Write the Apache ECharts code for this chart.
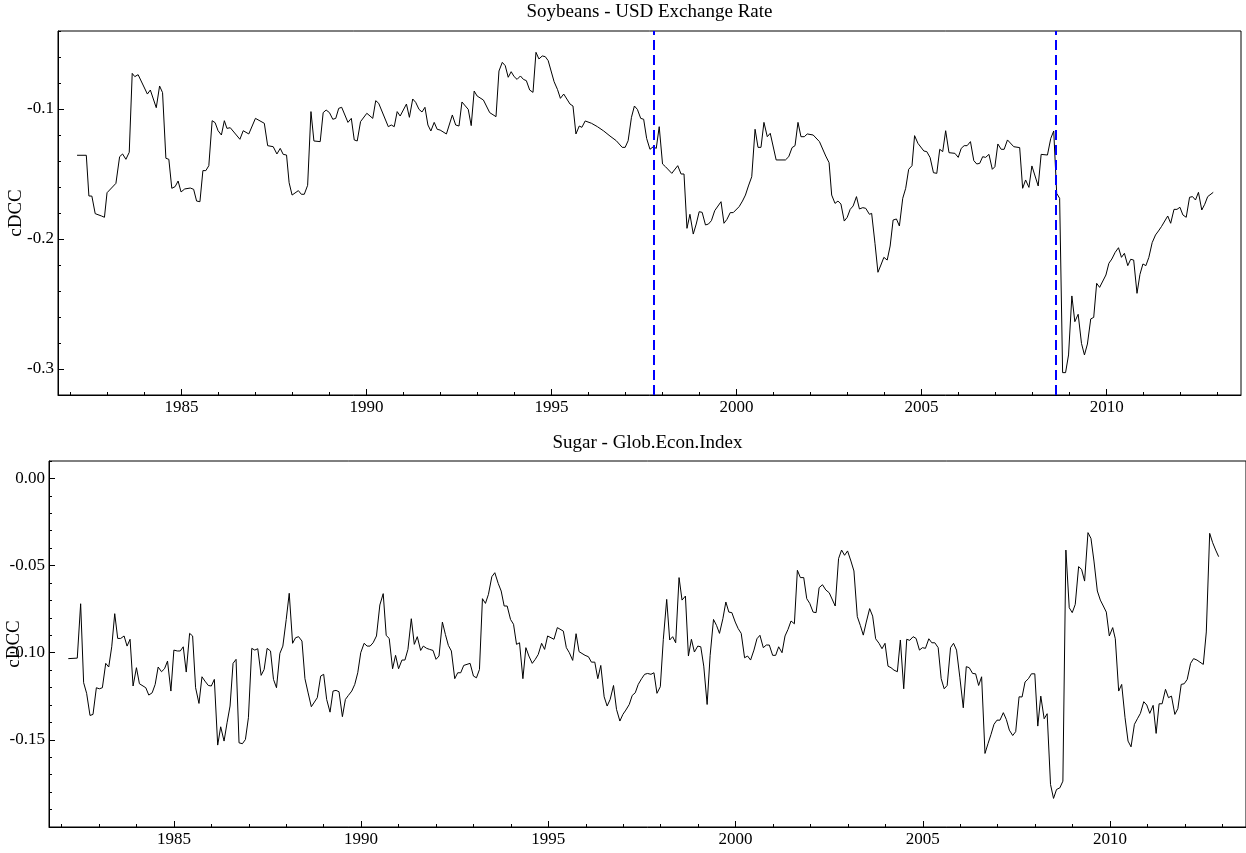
<!DOCTYPE html>
<html>
<head>
<meta charset="utf-8">
<title>cDCC</title>
<script src="https://cdn.jsdelivr.net/npm/echarts@6/dist/echarts.min.js"></script>
<style>
  html, body { margin: 0; padding: 0; background: #fff; }
  #main { width: 1246px; height: 853px; }
</style>
</head>
<body>
<div id="main"></div>
<script>
// soybeans - USD exchange rate (monthly-ish vertices)
const soyDates = [
  1982.18, 1982.43, 1982.50, 1982.58, 1982.67, 1982.84, 1982.92, 1982.99, 1983.23, 1983.33,
  1983.41, 1983.50, 1983.59, 1983.67, 1983.74, 1983.83, 1984.08, 1984.16, 1984.32, 1984.41,
  1984.49, 1984.58, 1984.66, 1984.74, 1984.83, 1984.91, 1984.99, 1985.09, 1985.24, 1985.33,
  1985.41, 1985.50, 1985.58, 1985.66, 1985.74, 1985.83, 1985.91, 1985.99, 1986.08, 1986.16,
  1986.23, 1986.32, 1986.58, 1986.67, 1986.82, 1987.00, 1987.24, 1987.33, 1987.48, 1987.58,
  1987.67, 1987.75, 1987.84, 1987.91, 1987.99, 1988.16, 1988.24, 1988.32, 1988.41, 1988.50,
  1988.58, 1988.75, 1988.83, 1988.91, 1989.00, 1989.09, 1989.17, 1989.25, 1989.33, 1989.50,
  1989.59, 1989.67, 1989.75, 1989.84, 1990.01, 1990.17, 1990.25, 1990.33, 1990.59, 1990.67,
  1990.75, 1990.83, 1990.91, 1991.08, 1991.16, 1991.25, 1991.33, 1991.42, 1991.50, 1991.58,
  1991.66, 1991.74, 1991.83, 1991.91, 1991.99, 1992.16, 1992.32, 1992.41, 1992.50, 1992.58,
  1992.75, 1992.83, 1992.91, 1992.99, 1993.16, 1993.33, 1993.50, 1993.58, 1993.67, 1993.75,
  1993.83, 1993.91, 1993.99, 1994.07, 1994.16, 1994.24, 1994.32, 1994.41, 1994.50, 1994.58,
  1994.66, 1994.75, 1994.83, 1994.91, 1995.07, 1995.16, 1995.24, 1995.33, 1995.50, 1995.58,
  1995.66, 1995.75, 1995.82, 1995.91, 1996.08, 1996.24, 1996.41, 1996.58, 1996.75, 1996.91,
  1996.99, 1997.07, 1997.16, 1997.24, 1997.32, 1997.41, 1997.49, 1997.57, 1997.66, 1997.75,
  1997.83, 1997.91, 1998.00, 1998.08, 1998.25, 1998.41, 1998.50, 1998.58, 1998.66, 1998.74,
  1998.83, 1998.91, 1998.99, 1999.07, 1999.16, 1999.24, 1999.32, 1999.41, 1999.58, 1999.66,
  1999.74, 1999.83, 1999.91, 2000.07, 2000.16, 2000.24, 2000.32, 2000.41, 2000.50, 2000.58,
  2000.66, 2000.74, 2000.83, 2000.91, 2001.07, 2001.32, 2001.41, 2001.50, 2001.58, 2001.66,
  2001.74, 2001.83, 2001.91, 2002.07, 2002.24, 2002.41, 2002.50, 2002.57, 2002.66, 2002.74,
  2002.82, 2002.91, 2002.99, 2003.07, 2003.15, 2003.24, 2003.32, 2003.41, 2003.49, 2003.59,
  2003.65, 2003.74, 2003.82, 2003.90, 2003.98, 2004.07, 2004.15, 2004.23, 2004.32, 2004.40,
  2004.49, 2004.57, 2004.65, 2004.74, 2004.81, 2004.90, 2005.06, 2005.14, 2005.23, 2005.32,
  2005.41, 2005.49, 2005.57, 2005.65, 2005.74, 2005.90, 2005.99, 2006.07, 2006.15, 2006.23,
  2006.32, 2006.41, 2006.49, 2006.57, 2006.65, 2006.73, 2006.82, 2006.91, 2006.98, 2007.06,
  2007.15, 2007.23, 2007.32, 2007.49, 2007.65, 2007.73, 2007.81, 2007.90, 2007.98, 2008.15,
  2008.23, 2008.40, 2008.49, 2008.57, 2008.65, 2008.73, 2008.81, 2008.89, 2008.97, 2009.06,
  2009.14, 2009.23, 2009.32, 2009.40, 2009.48, 2009.57, 2009.65, 2009.73, 2009.81, 2009.98,
  2010.06, 2010.14, 2010.23, 2010.32, 2010.40, 2010.48, 2010.57, 2010.65, 2010.73, 2010.82,
  2010.90, 2010.98, 2011.06, 2011.14, 2011.23, 2011.32, 2011.40, 2011.48, 2011.65, 2011.73,
  2011.82, 2011.90, 2011.98, 2012.06, 2012.15, 2012.24, 2012.32, 2012.40, 2012.48, 2012.57,
  2012.65, 2012.73, 2012.88
];
const soyValues = [
  -0.1356, -0.1356, -0.1669, -0.1670, -0.1805, -0.1823, -0.1833, -0.1644, -0.1572, -0.1367,
  -0.1346, -0.1387, -0.1333, -0.0726, -0.0751, -0.0736, -0.0885, -0.0854, -0.0990, -0.0823,
  -0.0874, -0.1379, -0.1387, -0.1610, -0.1597, -0.1554, -0.1638, -0.1615, -0.1608, -0.1618,
  -0.1708, -0.1713, -0.1474, -0.1474, -0.1436, -0.1090, -0.1105, -0.1167, -0.1200, -0.1090,
  -0.1149, -0.1144, -0.1233, -0.1167, -0.1192, -0.1072, -0.1110, -0.1282, -0.1290, -0.1346,
  -0.1303, -0.1349, -0.1354, -0.1567, -0.1662, -0.1628, -0.1656, -0.1656, -0.1587, -0.1020,
  -0.1246, -0.1251, -0.1028, -0.1008, -0.1028, -0.1079, -0.1072, -0.0995, -0.0987, -0.1103,
  -0.1072, -0.1238, -0.1246, -0.1097, -0.1033, -0.1072, -0.0936, -0.0956, -0.1136, -0.1123,
  -0.1136, -0.1020, -0.1054, -0.0962, -0.1064, -0.0923, -0.0949, -0.1003, -0.1023, -0.0987,
  -0.1123, -0.1169, -0.1103, -0.1156, -0.1162, -0.1192, -0.1046, -0.1123, -0.1131, -0.0946,
  -0.1003, -0.1128, -0.0862, -0.0900, -0.0931, -0.1028, -0.1059, -0.0708, -0.0641, -0.0667,
  -0.0756, -0.0713, -0.0751, -0.0772, -0.0746, -0.0772, -0.0782, -0.0854, -0.0872, -0.0564,
  -0.0615, -0.0592, -0.0597, -0.0628, -0.0790, -0.0849, -0.0918, -0.0885, -0.0962, -0.0977,
  -0.1192, -0.1131, -0.1141, -0.1092, -0.1110, -0.1136, -0.1169, -0.1208, -0.1244, -0.1295,
  -0.1295, -0.1244, -0.1064, -0.0977, -0.1003, -0.1072, -0.1079, -0.1226, -0.1310, -0.1290,
  -0.1303, -0.1136, -0.1423, -0.1444, -0.1495, -0.1436, -0.1500, -0.1500, -0.1918, -0.1810,
  -0.1962, -0.1885, -0.1790, -0.1795, -0.1892, -0.1885, -0.1859, -0.1782, -0.1713, -0.1879,
  -0.1849, -0.1797, -0.1797, -0.1751, -0.1708, -0.1662, -0.1592, -0.1521, -0.1156, -0.1295,
  -0.1295, -0.1103, -0.1213, -0.1187, -0.1392, -0.1392, -0.1367, -0.1297, -0.1282, -0.1103,
  -0.1213, -0.1213, -0.1192, -0.1200, -0.1251, -0.1362, -0.1413, -0.1662, -0.1726, -0.1708,
  -0.1731, -0.1862, -0.1833, -0.1772, -0.1746, -0.1674, -0.1769, -0.1759, -0.1764, -0.1810,
  -0.1803, -0.2033, -0.2256, -0.2200, -0.2141, -0.2162, -0.2054, -0.1854, -0.1846, -0.1900,
  -0.1687, -0.1610, -0.1464, -0.1436, -0.1205, -0.1264, -0.1323, -0.1328, -0.1374, -0.1490,
  -0.1495, -0.1310, -0.1328, -0.1167, -0.1336, -0.1341, -0.1372, -0.1303, -0.1282, -0.1282,
  -0.1251, -0.1397, -0.1423, -0.1418, -0.1367, -0.1372, -0.1349, -0.1464, -0.1444, -0.1269,
  -0.1310, -0.1310, -0.1238, -0.1290, -0.1297, -0.1610, -0.1546, -0.1603, -0.1438, -0.1592,
  -0.1349, -0.1354, -0.1226, -0.1169, -0.1649, -0.1687, -0.3028, -0.3028, -0.2892, -0.2438,
  -0.2636, -0.2579, -0.2803, -0.2892, -0.2808, -0.2615, -0.2603, -0.2341, -0.2372, -0.2277,
  -0.2187, -0.2154, -0.2103, -0.2067, -0.2141, -0.2110, -0.2205, -0.2156, -0.2162, -0.2418,
  -0.2272, -0.2192, -0.2205, -0.2141, -0.2028, -0.1969, -0.1938, -0.1905, -0.1823, -0.1879,
  -0.1772, -0.1772, -0.1756, -0.1815, -0.1833, -0.1679, -0.1674, -0.1700, -0.1641, -0.1777,
  -0.1733, -0.1674, -0.1641
];

// sugar - global economic index
const sugarDates = [
  1982.18, 1982.42, 1982.51, 1982.59, 1982.67, 1982.76, 1982.84, 1982.93, 1983.01, 1983.09,
  1983.18, 1983.26, 1983.34, 1983.42, 1983.50, 1983.58, 1983.67, 1983.75, 1983.83, 1983.91,
  1984.00, 1984.08, 1984.25, 1984.33, 1984.42, 1984.50, 1984.58, 1984.67, 1984.75, 1984.83,
  1984.92, 1985.00, 1985.09, 1985.17, 1985.25, 1985.33, 1985.42, 1985.50, 1985.58, 1985.67,
  1985.75, 1985.83, 1985.92, 1986.00, 1986.08, 1986.17, 1986.25, 1986.34, 1986.42, 1986.50,
  1986.58, 1986.66, 1986.74, 1986.83, 1986.91, 1986.99, 1987.08, 1987.16, 1987.24, 1987.33,
  1987.41, 1987.49, 1987.58, 1987.66, 1987.74, 1987.83, 1987.91, 1988.00, 1988.08, 1988.17,
  1988.25, 1988.33, 1988.42, 1988.50, 1988.58, 1988.67, 1988.83, 1988.92, 1989.00, 1989.08,
  1989.17, 1989.25, 1989.33, 1989.41, 1989.50, 1989.58, 1989.66, 1989.75, 1989.83, 1989.91,
  1989.99, 1990.08, 1990.16, 1990.24, 1990.32, 1990.41, 1990.50, 1990.59, 1990.67, 1990.75,
  1990.84, 1990.92, 1991.00, 1991.09, 1991.17, 1991.25, 1991.34, 1991.42, 1991.50, 1991.59,
  1991.66, 1991.75, 1991.83, 1991.92, 1992.00, 1992.08, 1992.17, 1992.25, 1992.33, 1992.41,
  1992.50, 1992.58, 1992.66, 1992.74, 1992.91, 1993.00, 1993.08, 1993.16, 1993.24, 1993.32,
  1993.40, 1993.49, 1993.57, 1993.66, 1993.74, 1993.82, 1993.90, 1993.99, 1994.07, 1994.15,
  1994.23, 1994.32, 1994.40, 1994.48, 1994.57, 1994.65, 1994.73, 1994.82, 1994.90, 1994.98,
  1995.15, 1995.24, 1995.40, 1995.48, 1995.56, 1995.65, 1995.74, 1995.82, 1995.98, 1996.07,
  1996.15, 1996.24, 1996.32, 1996.40, 1996.49, 1996.57, 1996.65, 1996.74, 1996.82, 1996.91,
  1996.99, 1997.07, 1997.16, 1997.24, 1997.32, 1997.40, 1997.49, 1997.57, 1997.65, 1997.74,
  1997.82, 1997.90, 1997.99, 1998.07, 1998.16, 1998.24, 1998.32, 1998.40, 1998.49, 1998.57,
  1998.66, 1998.74, 1998.82, 1998.90, 1998.99, 1999.07, 1999.15, 1999.24, 1999.32, 1999.41,
  1999.49, 1999.57, 1999.66, 1999.74, 1999.82, 1999.90, 1999.99, 2000.07, 2000.15, 2000.24,
  2000.32, 2000.40, 2000.49, 2000.57, 2000.65, 2000.74, 2000.82, 2000.90, 2000.99, 2001.07,
  2001.15, 2001.24, 2001.32, 2001.40, 2001.48, 2001.57, 2001.65, 2001.73, 2001.82, 2001.90,
  2001.98, 2002.07, 2002.15, 2002.23, 2002.32, 2002.41, 2002.50, 2002.66, 2002.75, 2002.83,
  2002.91, 2002.99, 2003.08, 2003.16, 2003.25, 2003.33, 2003.41, 2003.49, 2003.58, 2003.66,
  2003.74, 2003.83, 2003.91, 2003.99, 2004.07, 2004.15, 2004.23, 2004.32, 2004.40, 2004.49,
  2004.57, 2004.65, 2004.74, 2004.82, 2004.91, 2004.99, 2005.07, 2005.16, 2005.24, 2005.32,
  2005.41, 2005.49, 2005.57, 2005.65, 2005.74, 2005.82, 2005.90, 2005.99, 2006.08, 2006.16,
  2006.24, 2006.33, 2006.41, 2006.49, 2006.57, 2006.66, 2006.74, 2006.82, 2006.90, 2006.98,
  2007.06, 2007.15, 2007.23, 2007.31, 2007.40, 2007.48, 2007.57, 2007.65, 2007.73, 2007.82,
  2007.90, 2007.99, 2008.07, 2008.15, 2008.24, 2008.32, 2008.41, 2008.49, 2008.57, 2008.66,
  2008.74, 2008.82, 2008.91, 2008.99, 2009.07, 2009.16, 2009.24, 2009.32, 2009.41, 2009.49,
  2009.57, 2009.66, 2009.74, 2009.82, 2009.90, 2009.98, 2010.07, 2010.14, 2010.23, 2010.31,
  2010.40, 2010.48, 2010.56, 2010.65, 2010.73, 2010.81, 2010.90, 2010.98, 2011.06, 2011.15,
  2011.23, 2011.31, 2011.39, 2011.48, 2011.56, 2011.64, 2011.73, 2011.81, 2011.90, 2011.98,
  2012.06, 2012.15, 2012.23, 2012.32, 2012.40, 2012.49, 2012.57, 2012.66, 2012.74, 2012.82,
  2012.90
];
const sugarValues = [
  -0.1034, -0.1031, -0.0719, -0.1172, -0.1233, -0.1360, -0.1354, -0.1201, -0.1207, -0.1201,
  -0.1061, -0.1082, -0.0966, -0.0776, -0.0918, -0.0918, -0.0904, -0.0962, -0.0923, -0.1191,
  -0.1086, -0.1178, -0.1201, -0.1243, -0.1230, -0.1182, -0.1082, -0.1109, -0.1092, -0.1048,
  -0.1220, -0.0985, -0.0990, -0.0990, -0.0966, -0.1111, -0.0889, -0.0904, -0.1201, -0.1291,
  -0.1138, -0.1163, -0.1188, -0.1191, -0.1153, -0.1530, -0.1425, -0.1507, -0.1402, -0.1306,
  -0.1061, -0.1038, -0.1517, -0.1522, -0.1498, -0.1373, -0.0975, -0.0985, -0.0977, -0.1130,
  -0.1096, -0.0975, -0.0990, -0.1153, -0.1201, -0.1004, -0.0962, -0.0809, -0.0659, -0.0946,
  -0.0914, -0.0908, -0.0933, -0.1149, -0.1226, -0.1310, -0.1258, -0.1134, -0.1124, -0.1268,
  -0.1341, -0.1220, -0.1216, -0.1224, -0.1367, -0.1268, -0.1245, -0.1220, -0.1182, -0.1115,
  -0.1000, -0.0946, -0.0962, -0.0962, -0.0943, -0.0904, -0.0726, -0.0661, -0.0901, -0.0918,
  -0.1092, -0.1015, -0.1092, -0.1042, -0.1042, -0.0981, -0.0805, -0.0952, -0.0908, -0.0987,
  -0.0962, -0.0975, -0.0981, -0.0987, -0.1038, -0.1019, -0.0824, -0.0895, -0.0958, -0.0990,
  -0.1149, -0.1115, -0.1115, -0.1073, -0.1061, -0.1134, -0.1144, -0.1096, -0.0690, -0.0717,
  -0.0665, -0.0564, -0.0541, -0.0602, -0.0646, -0.0732, -0.0732, -0.0809, -0.0837, -0.0952,
  -0.0943, -0.1149, -0.0971, -0.1019, -0.1061, -0.1038, -0.1010, -0.0946, -0.0981, -0.0904,
  -0.0923, -0.0856, -0.0876, -0.0971, -0.1000, -0.1044, -0.0891, -0.0994, -0.1015, -0.1023,
  -0.1054, -0.1054, -0.1149, -0.1073, -0.1253, -0.1306, -0.1268, -0.1188, -0.1325, -0.1392,
  -0.1354, -0.1329, -0.1297, -0.1245, -0.1230, -0.1182, -0.1149, -0.1124, -0.1119, -0.1124,
  -0.1115, -0.1233, -0.1195, -0.0923, -0.0694, -0.0927, -0.0908, -0.0943, -0.0569, -0.0698,
  -0.0675, -0.1019, -0.0923, -0.0996, -0.0962, -0.0966, -0.1077, -0.1297, -0.1015, -0.0809,
  -0.0843, -0.0889, -0.0805, -0.0709, -0.0767, -0.0770, -0.0824, -0.0862, -0.0889, -0.1029,
  -0.1019, -0.1042, -0.0985, -0.0920, -0.0900, -0.0971, -0.0956, -0.0956, -0.1015, -0.1015,
  -0.0966, -0.1000, -0.0904, -0.0866, -0.0818, -0.0834, -0.0527, -0.0569, -0.0569, -0.0690,
  -0.0717, -0.0767, -0.0770, -0.0627, -0.0610, -0.0640, -0.0656, -0.0732, -0.0460, -0.0411,
  -0.0441, -0.0416, -0.0474, -0.0531, -0.0793, -0.0843, -0.0899, -0.0824, -0.0747, -0.0790,
  -0.0920, -0.0946, -0.0977, -0.0946, -0.1077, -0.1086, -0.1100, -0.1109, -0.0927, -0.1207,
  -0.0923, -0.0929, -0.0908, -0.0918, -0.0985, -0.0971, -0.0975, -0.0920, -0.0943, -0.0943,
  -0.0971, -0.1149, -0.1207, -0.1188, -0.0971, -0.0946, -0.0985, -0.1144, -0.1316, -0.1080,
  -0.1086, -0.1119, -0.1121, -0.1188, -0.1138, -0.1578, -0.1522, -0.1469, -0.1411, -0.1387,
  -0.1387, -0.1344, -0.1383, -0.1444, -0.1475, -0.1453, -0.1253, -0.1254, -0.1168, -0.1149,
  -0.1121, -0.1121, -0.1421, -0.1249, -0.1379, -0.1350, -0.1756, -0.1836, -0.1785, -0.1775,
  -0.1737, -0.0411, -0.0742, -0.0770, -0.0723, -0.0506, -0.0522, -0.0589, -0.0311, -0.0344,
  -0.0474, -0.0646, -0.0698, -0.0732, -0.0767, -0.0904, -0.0856, -0.0920, -0.1220, -0.1182,
  -0.1373, -0.1507, -0.1540, -0.1411, -0.1379, -0.1348, -0.1281, -0.1300, -0.1348, -0.1302,
  -0.1463, -0.1293, -0.1293, -0.1210, -0.1258, -0.1249, -0.1354, -0.1321, -0.1182, -0.1178,
  -0.1153, -0.1061, -0.1034, -0.1042, -0.1054, -0.1067, -0.0881, -0.0315, -0.0369, -0.0411,
  -0.0449
];

// dashed break dates on the soybean panel
const breakDates = [1997.77, 2008.63];

// axis ticks and labels
const yearLabels = [1985, 1990, 1995, 2000, 2005, 2010];
const yearTicks = [1982, 1983, 1984, 1986, 1987, 1988, 1989, 1991, 1992, 1993, 1994, 1996, 1997,
  1998, 1999, 2001, 2002, 2003, 2004, 2006, 2007, 2008, 2009, 2011, 2012, 2013];
const soyLabels = [-0.3, -0.2, -0.1];
const soyMinor = [-0.32, -0.30, -0.28, -0.26, -0.24, -0.22, -0.20, -0.18, -0.16, -0.14, -0.12,
  -0.10, -0.08, -0.06, -0.04];
const sugarLabels = [-0.15, -0.10, -0.05, 0.00];
const sugarMinor = [-0.20, -0.19, -0.18, -0.17, -0.16, -0.15, -0.14, -0.13, -0.12, -0.11, -0.10,
  -0.09, -0.08, -0.07, -0.06, -0.05, -0.04, -0.03, -0.02, -0.01, 0.00, 0.01];

const xMin = 1981.665, xMax = 2013.63;
const FONT = 'Liberation Serif';

const grids = [
  { left: 58, top: 31, width: 1183, height: 364 },
  { left: 49, top: 461, width: 1197, height: 366 }
];

function pairs(xs, ys) {
  return xs.map((x, i) => [x, ys[i]]);
}

function xAxes(gi) {
  const g = grids[gi];
  return [
    {
      type: 'value', gridIndex: gi, position: 'bottom', min: xMin, max: xMax,
      axisLine: { onZero: false, lineStyle: { color: '#000', width: 1 } },
      axisTick: { inside: true, length: 6, customValues: yearLabels, lineStyle: { color: '#000' } },
      axisLabel: {
        customValues: yearLabels, color: '#000', fontFamily: FONT, fontSize: 17, margin: 4,
        formatter: v => String(v)
      },
      splitLine: { show: false }
    },
    {
      // minor year ticks, drawn from a top axis moved onto the bottom edge
      type: 'value', gridIndex: gi, position: 'top', offset: -g.height, min: xMin, max: xMax,
      axisLine: { show: false, onZero: false },
      axisTick: { inside: false, length: 3, customValues: yearTicks, lineStyle: { color: '#000' } },
      axisLabel: { show: false },
      splitLine: { show: false }
    }
  ];
}

function yAxes(gi, min, max, labels, minor, digits, gap) {
  const g = grids[gi];
  return [
    {
      type: 'value', gridIndex: gi, position: 'left', min: min, max: max,
      name: 'cDCC', nameLocation: 'middle', nameRotate: 90, nameGap: gap, nameMoveOverlap: false,
      nameTextStyle: { color: '#000', fontFamily: FONT, fontSize: 19 },
      axisLine: { show: true, onZero: false, lineStyle: { color: '#000', width: 1 } },
      axisTick: { show: true, inside: true, length: 6, customValues: labels, lineStyle: { color: '#000' } },
      axisLabel: {
        customValues: labels, color: '#000', fontFamily: FONT, fontSize: 17, margin: 4,
        formatter: v => v.toFixed(digits)
      },
      splitLine: { show: false }
    },
    {
      type: 'value', gridIndex: gi, position: 'right', offset: -g.width, min: min, max: max,
      axisLine: { show: false, onZero: false },
      axisTick: { show: true, inside: false, length: 3, customValues: minor, lineStyle: { color: '#000' } },
      axisLabel: { show: false },
      splitLine: { show: false }
    }
  ];
}

const chart = echarts.init(document.getElementById('main'), null, { renderer: 'canvas' });

chart.setOption({
  animation: false,
  backgroundColor: '#fff',
  title: [
    {
      text: 'Soybeans - USD Exchange Rate', left: 649.5, top: 3, textAlign: 'center', padding: 0,
      textStyle: { color: '#000', fontFamily: FONT, fontSize: 19, fontWeight: 'normal' }
    },
    {
      text: 'Sugar - Glob.Econ.Index', left: 647.5, top: 434, textAlign: 'center', padding: 0,
      textStyle: { color: '#000', fontFamily: FONT, fontSize: 19, fontWeight: 'normal' }
    }
  ],
  grid: grids.map(g => Object.assign({
    show: true, borderColor: '#000', borderWidth: 1, containLabel: false, outerBoundsMode: 'none'
  }, g)),
  xAxis: xAxes(0).concat(xAxes(1)),
  yAxis: yAxes(0, -0.32, -0.04, soyLabels, soyMinor, 1, 32)
    .concat(yAxes(1, -0.20, 0.01, sugarLabels, sugarMinor, 2, 25)),
  series: [
    {
      name: 'Soybeans - USD Exchange Rate', type: 'line', xAxisIndex: 0, yAxisIndex: 0,
      data: pairs(soyDates, soyValues), showSymbol: false,
      lineStyle: { color: '#000', width: 1 },
      markLine: {
        silent: true, symbol: ['none', 'none'], label: { show: false },
        lineStyle: { color: '#0000ff', width: 2, type: [10, 5] },
        data: breakDates.map(d => ({ xAxis: d }))
      }
    },
    {
      name: 'Sugar - Glob.Econ.Index', type: 'line', xAxisIndex: 2, yAxisIndex: 2,
      data: pairs(sugarDates, sugarValues), showSymbol: false,
      lineStyle: { color: '#000', width: 1 }
    }
  ]
});
</script>
</body>
</html>
